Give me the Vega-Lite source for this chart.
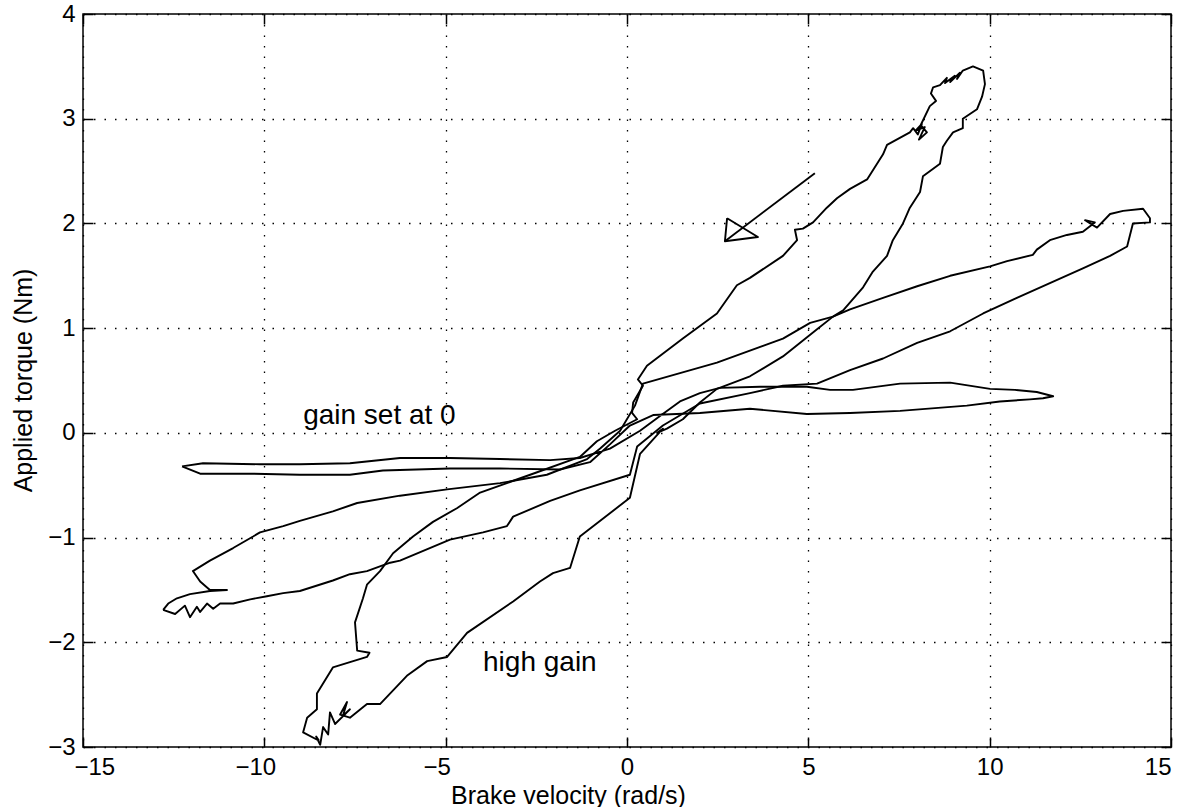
{
"$schema": "https://vega.github.io/schema/vega-lite/v6.json",
"width": 1088, "height": 733,
"autosize": {"type": "none"},
"padding": {"left": 83, "top": 14, "right": 22, "bottom": 60},
"background": "white",
"config": {
 "view": {"stroke": "black", "strokeWidth": 1.5},
 "font": "Liberation Sans",
 "axis": {"domain": false, "labelFont": "Liberation Sans", "labelFontSize": 24, "labelColor": "black", "titleFont": "Liberation Sans", "titleFontSize": 25, "titleFontWeight": "normal", "titleColor": "black", "tickColor": "black", "tickWidth": 1.5, "tickSize": -10, "labelPadding": 18, "grid": false}
},
"datasets": {
"curves": [
{"s":"high","i":0,"x":-8.49,"y":-2.94},{"s":"high","i":1,"x":-8.93,"y":-2.86},{"s":"high","i":2,"x":-8.82,"y":-2.72},{"s":"high","i":3,"x":-8.55,"y":-2.64},{"s":"high","i":4,"x":-8.55,"y":-2.49},{"s":"high","i":5,"x":-8.11,"y":-2.24},{"s":"high","i":6,"x":-7.64,"y":-2.19},{"s":"high","i":7,"x":-7.17,"y":-2.14},{"s":"high","i":8,"x":-7.10,"y":-2.10},{"s":"high","i":9,"x":-7.44,"y":-2.08},{"s":"high","i":10,"x":-7.50,"y":-1.81},{"s":"high","i":11,"x":-7.28,"y":-1.58},{"s":"high","i":12,"x":-7.17,"y":-1.45},{"s":"high","i":13,"x":-6.81,"y":-1.32},{"s":"high","i":14,"x":-6.45,"y":-1.15},{"s":"high","i":15,"x":-5.90,"y":-0.99},{"s":"high","i":16,"x":-5.35,"y":-0.85},{"s":"high","i":17,"x":-4.69,"y":-0.72},{"s":"high","i":18,"x":-4.05,"y":-0.57},{"s":"high","i":19,"x":-2.67,"y":-0.40},{"s":"high","i":20,"x":-1.30,"y":-0.23},{"s":"high","i":21,"x":-0.83,"y":-0.08},{"s":"high","i":22,"x":-0.33,"y":0.02},{"s":"high","i":23,"x":0.28,"y":0.13},{"s":"high","i":24,"x":0.14,"y":0.19},{"s":"high","i":25,"x":0.17,"y":0.29},{"s":"high","i":26,"x":0.44,"y":0.45},{"s":"high","i":27,"x":0.30,"y":0.51},{"s":"high","i":28,"x":0.55,"y":0.64},{"s":"high","i":29,"x":1.54,"y":0.90},{"s":"high","i":30,"x":2.48,"y":1.14},{"s":"high","i":31,"x":3.03,"y":1.41},{"s":"high","i":32,"x":3.39,"y":1.48},{"s":"high","i":33,"x":4.30,"y":1.69},{"s":"high","i":34,"x":4.69,"y":1.84},{"s":"high","i":35,"x":4.63,"y":1.94},{"s":"high","i":36,"x":4.85,"y":1.95},{"s":"high","i":37,"x":5.13,"y":2.01},{"s":"high","i":38,"x":5.51,"y":2.15},{"s":"high","i":39,"x":5.79,"y":2.24},{"s":"high","i":40,"x":6.15,"y":2.33},{"s":"high","i":41,"x":6.62,"y":2.42},{"s":"high","i":42,"x":7.06,"y":2.66},{"s":"high","i":43,"x":7.17,"y":2.75},{"s":"high","i":44,"x":7.80,"y":2.87},{"s":"high","i":45,"x":7.89,"y":2.91},{"s":"high","i":46,"x":8.02,"y":2.85},{"s":"high","i":47,"x":8.13,"y":2.95},{"s":"high","i":48,"x":7.97,"y":2.89},{"s":"high","i":49,"x":8.21,"y":2.92},{"s":"high","i":50,"x":8.05,"y":2.80},{"s":"high","i":51,"x":8.27,"y":2.87},{"s":"high","i":52,"x":8.10,"y":2.94},{"s":"high","i":53,"x":8.35,"y":3.12},{"s":"high","i":54,"x":8.52,"y":3.17},{"s":"high","i":55,"x":8.38,"y":3.24},{"s":"high","i":56,"x":8.44,"y":3.30},{"s":"high","i":57,"x":8.63,"y":3.32},{"s":"high","i":58,"x":8.82,"y":3.39},{"s":"high","i":59,"x":8.77,"y":3.34},{"s":"high","i":60,"x":9.04,"y":3.41},{"s":"high","i":61,"x":8.91,"y":3.35},{"s":"high","i":62,"x":9.18,"y":3.44},{"s":"high","i":63,"x":9.10,"y":3.38},{"s":"high","i":64,"x":9.26,"y":3.46},{"s":"high","i":65,"x":9.54,"y":3.50},{"s":"high","i":66,"x":9.82,"y":3.46},{"s":"high","i":67,"x":9.87,"y":3.33},{"s":"high","i":68,"x":9.79,"y":3.21},{"s":"high","i":69,"x":9.65,"y":3.09},{"s":"high","i":70,"x":9.26,"y":3.00},{"s":"high","i":71,"x":9.26,"y":2.91},{"s":"high","i":72,"x":8.99,"y":2.87},{"s":"high","i":73,"x":8.82,"y":2.79},{"s":"high","i":74,"x":8.71,"y":2.73},{"s":"high","i":75,"x":8.63,"y":2.57},{"s":"high","i":76,"x":8.16,"y":2.45},{"s":"high","i":77,"x":8.08,"y":2.30},{"s":"high","i":78,"x":7.80,"y":2.15},{"s":"high","i":79,"x":7.61,"y":2.00},{"s":"high","i":80,"x":7.33,"y":1.84},{"s":"high","i":81,"x":7.17,"y":1.69},{"s":"high","i":82,"x":6.78,"y":1.54},{"s":"high","i":83,"x":6.51,"y":1.39},{"s":"high","i":84,"x":5.96,"y":1.17},{"s":"high","i":85,"x":5.68,"y":1.11},{"s":"high","i":86,"x":5.24,"y":0.99},{"s":"high","i":87,"x":4.30,"y":0.73},{"s":"high","i":88,"x":3.39,"y":0.54},{"s":"high","i":89,"x":2.48,"y":0.42},{"s":"high","i":90,"x":2.01,"y":0.29},{"s":"high","i":91,"x":1.54,"y":0.13},{"s":"high","i":92,"x":1.10,"y":0.04},{"s":"high","i":93,"x":0.83,"y":0.00},{"s":"high","i":94,"x":0.99,"y":0.04},{"s":"high","i":95,"x":0.36,"y":-0.20},{"s":"high","i":96,"x":0.08,"y":-0.62},{"s":"high","i":97,"x":-1.30,"y":-0.99},{"s":"high","i":98,"x":-1.57,"y":-1.29},{"s":"high","i":99,"x":-2.04,"y":-1.34},{"s":"high","i":100,"x":-2.40,"y":-1.42},{"s":"high","i":101,"x":-3.14,"y":-1.61},{"s":"high","i":102,"x":-4.41,"y":-1.91},{"s":"high","i":103,"x":-4.96,"y":-2.14},{"s":"high","i":104,"x":-5.51,"y":-2.18},{"s":"high","i":105,"x":-6.07,"y":-2.32},{"s":"high","i":106,"x":-6.81,"y":-2.59},{"s":"high","i":107,"x":-7.17,"y":-2.59},{"s":"high","i":108,"x":-7.64,"y":-2.72},{"s":"high","i":109,"x":-7.91,"y":-2.69},{"s":"high","i":110,"x":-7.72,"y":-2.57},{"s":"high","i":111,"x":-7.83,"y":-2.70},{"s":"high","i":112,"x":-7.64,"y":-2.64},{"s":"high","i":113,"x":-8.05,"y":-2.78},{"s":"high","i":114,"x":-8.19,"y":-2.67},{"s":"high","i":115,"x":-8.24,"y":-2.88},{"s":"high","i":116,"x":-8.38,"y":-2.81},{"s":"high","i":117,"x":-8.46,"y":-2.98},{"s":"high","i":118,"x":-8.57,"y":-2.90},{"s":"high","i":119,"x":-8.49,"y":-2.94},
{"s":"mid","i":0,"x":-12.79,"y":-1.69},{"s":"mid","i":1,"x":-12.46,"y":-1.73},{"s":"mid","i":2,"x":-12.19,"y":-1.65},{"s":"mid","i":3,"x":-12.05,"y":-1.76},{"s":"mid","i":4,"x":-11.86,"y":-1.66},{"s":"mid","i":5,"x":-11.77,"y":-1.71},{"s":"mid","i":6,"x":-11.58,"y":-1.63},{"s":"mid","i":7,"x":-11.41,"y":-1.68},{"s":"mid","i":8,"x":-11.22,"y":-1.63},{"s":"mid","i":9,"x":-10.86,"y":-1.63},{"s":"mid","i":10,"x":-10.39,"y":-1.59},{"s":"mid","i":11,"x":-9.93,"y":-1.56},{"s":"mid","i":12,"x":-9.48,"y":-1.53},{"s":"mid","i":13,"x":-9.02,"y":-1.51},{"s":"mid","i":14,"x":-8.11,"y":-1.41},{"s":"mid","i":15,"x":-7.64,"y":-1.35},{"s":"mid","i":16,"x":-7.17,"y":-1.32},{"s":"mid","i":17,"x":-6.53,"y":-1.24},{"s":"mid","i":18,"x":-6.26,"y":-1.22},{"s":"mid","i":19,"x":-4.88,"y":-1.02},{"s":"mid","i":20,"x":-3.97,"y":-0.95},{"s":"mid","i":21,"x":-3.31,"y":-0.89},{"s":"mid","i":22,"x":-3.14,"y":-0.80},{"s":"mid","i":23,"x":-2.12,"y":-0.65},{"s":"mid","i":24,"x":-1.30,"y":-0.55},{"s":"mid","i":25,"x":0.08,"y":-0.40},{"s":"mid","i":26,"x":0.28,"y":-0.13},{"s":"mid","i":27,"x":0.99,"y":0.07},{"s":"mid","i":28,"x":2.01,"y":0.28},{"s":"mid","i":29,"x":3.39,"y":0.38},{"s":"mid","i":30,"x":4.30,"y":0.45},{"s":"mid","i":31,"x":5.24,"y":0.47},{"s":"mid","i":32,"x":6.15,"y":0.60},{"s":"mid","i":33,"x":7.06,"y":0.71},{"s":"mid","i":34,"x":8.00,"y":0.86},{"s":"mid","i":35,"x":8.91,"y":0.97},{"s":"mid","i":36,"x":9.82,"y":1.14},{"s":"mid","i":37,"x":10.75,"y":1.29},{"s":"mid","i":38,"x":11.66,"y":1.43},{"s":"mid","i":39,"x":12.57,"y":1.57},{"s":"mid","i":40,"x":13.32,"y":1.69},{"s":"mid","i":41,"x":13.79,"y":1.78},{"s":"mid","i":42,"x":13.95,"y":2.00},{"s":"mid","i":43,"x":14.42,"y":2.01},{"s":"mid","i":44,"x":14.42,"y":2.05},{"s":"mid","i":45,"x":14.23,"y":2.14},{"s":"mid","i":46,"x":13.68,"y":2.12},{"s":"mid","i":47,"x":13.32,"y":2.09},{"s":"mid","i":48,"x":12.96,"y":1.96},{"s":"mid","i":49,"x":12.63,"y":2.03},{"s":"mid","i":50,"x":12.90,"y":2.01},{"s":"mid","i":51,"x":12.57,"y":1.92},{"s":"mid","i":52,"x":12.13,"y":1.89},{"s":"mid","i":53,"x":11.66,"y":1.84},{"s":"mid","i":54,"x":11.30,"y":1.75},{"s":"mid","i":55,"x":11.19,"y":1.70},{"s":"mid","i":56,"x":10.48,"y":1.64},{"s":"mid","i":57,"x":10.01,"y":1.59},{"s":"mid","i":58,"x":8.91,"y":1.50},{"s":"mid","i":59,"x":8.00,"y":1.40},{"s":"mid","i":60,"x":7.06,"y":1.29},{"s":"mid","i":61,"x":6.15,"y":1.18},{"s":"mid","i":62,"x":5.68,"y":1.11},{"s":"mid","i":63,"x":5.05,"y":1.05},{"s":"mid","i":64,"x":4.30,"y":0.90},{"s":"mid","i":65,"x":2.48,"y":0.67},{"s":"mid","i":66,"x":0.44,"y":0.47},{"s":"mid","i":67,"x":0.22,"y":0.26},{"s":"mid","i":68,"x":-0.19,"y":0.02},{"s":"mid","i":69,"x":-0.74,"y":-0.15},{"s":"mid","i":70,"x":-1.10,"y":-0.25},{"s":"mid","i":71,"x":-2.21,"y":-0.40},{"s":"mid","i":72,"x":-3.50,"y":-0.48},{"s":"mid","i":73,"x":-4.96,"y":-0.54},{"s":"mid","i":74,"x":-6.26,"y":-0.60},{"s":"mid","i":75,"x":-7.44,"y":-0.67},{"s":"mid","i":76,"x":-8.11,"y":-0.75},{"s":"mid","i":77,"x":-9.02,"y":-0.84},{"s":"mid","i":78,"x":-9.48,"y":-0.89},{"s":"mid","i":79,"x":-10.12,"y":-0.95},{"s":"mid","i":80,"x":-10.31,"y":-0.99},{"s":"mid","i":81,"x":-10.86,"y":-1.10},{"s":"mid","i":82,"x":-11.50,"y":-1.22},{"s":"mid","i":83,"x":-11.97,"y":-1.32},{"s":"mid","i":84,"x":-11.77,"y":-1.42},{"s":"mid","i":85,"x":-11.50,"y":-1.50},{"s":"mid","i":86,"x":-11.03,"y":-1.50},{"s":"mid","i":87,"x":-11.50,"y":-1.51},{"s":"mid","i":88,"x":-12.05,"y":-1.54},{"s":"mid","i":89,"x":-12.41,"y":-1.58},{"s":"mid","i":90,"x":-12.65,"y":-1.63},{"s":"mid","i":91,"x":-12.79,"y":-1.69},
{"s":"zero","i":0,"x":-12.27,"y":-0.32},{"s":"zero","i":1,"x":-11.69,"y":-0.29},{"s":"zero","i":2,"x":-10.12,"y":-0.30},{"s":"zero","i":3,"x":-9.02,"y":-0.30},{"s":"zero","i":4,"x":-7.64,"y":-0.29},{"s":"zero","i":5,"x":-6.26,"y":-0.24},{"s":"zero","i":6,"x":-4.88,"y":-0.24},{"s":"zero","i":7,"x":-3.50,"y":-0.25},{"s":"zero","i":8,"x":-2.12,"y":-0.26},{"s":"zero","i":9,"x":-1.30,"y":-0.24},{"s":"zero","i":10,"x":-0.47,"y":-0.15},{"s":"zero","i":11,"x":0.36,"y":0.02},{"s":"zero","i":12,"x":0.91,"y":0.16},{"s":"zero","i":13,"x":1.46,"y":0.30},{"s":"zero","i":14,"x":2.01,"y":0.38},{"s":"zero","i":15,"x":2.56,"y":0.43},{"s":"zero","i":16,"x":3.67,"y":0.44},{"s":"zero","i":17,"x":4.96,"y":0.44},{"s":"zero","i":18,"x":5.60,"y":0.41},{"s":"zero","i":19,"x":6.23,"y":0.41},{"s":"zero","i":20,"x":7.53,"y":0.47},{"s":"zero","i":21,"x":8.91,"y":0.48},{"s":"zero","i":22,"x":10.01,"y":0.42},{"s":"zero","i":23,"x":10.70,"y":0.41},{"s":"zero","i":24,"x":11.30,"y":0.39},{"s":"zero","i":25,"x":11.75,"y":0.35},{"s":"zero","i":26,"x":11.47,"y":0.33},{"s":"zero","i":27,"x":11.11,"y":0.32},{"s":"zero","i":28,"x":10.28,"y":0.30},{"s":"zero","i":29,"x":9.37,"y":0.26},{"s":"zero","i":30,"x":7.53,"y":0.21},{"s":"zero","i":31,"x":6.15,"y":0.19},{"s":"zero","i":32,"x":4.96,"y":0.18},{"s":"zero","i":33,"x":3.39,"y":0.23},{"s":"zero","i":34,"x":2.01,"y":0.19},{"s":"zero","i":35,"x":0.72,"y":0.17},{"s":"zero","i":36,"x":0.08,"y":0.07},{"s":"zero","i":37,"x":-0.47,"y":-0.11},{"s":"zero","i":38,"x":-1.02,"y":-0.28},{"s":"zero","i":39,"x":-1.85,"y":-0.35},{"s":"zero","i":40,"x":-3.50,"y":-0.34},{"s":"zero","i":41,"x":-4.88,"y":-0.34},{"s":"zero","i":42,"x":-6.73,"y":-0.36},{"s":"zero","i":43,"x":-7.64,"y":-0.40},{"s":"zero","i":44,"x":-9.02,"y":-0.40},{"s":"zero","i":45,"x":-10.39,"y":-0.39},{"s":"zero","i":46,"x":-11.77,"y":-0.39},{"s":"zero","i":47,"x":-12.27,"y":-0.32},
{"s":"shaft","i":0,"x":5.18,"y":2.48},{"s":"shaft","i":1,"x":2.70,"y":1.83},
{"s":"head","i":0,"x":2.76,"y":2.05},{"s":"head","i":1,"x":2.70,"y":1.83},{"s":"head","i":2,"x":3.61,"y":1.87},{"s":"head","i":3,"x":2.76,"y":2.05}
],
"labels": [
{"label":"gain set at 0","x":-8.93,"y":0.08},
{"label":"high gain","x":-3.97,"y":-2.27}
]
},
"layer": [
 {
  "data": {"name": "curves"},
  "mark": {"type": "line", "color": "black", "strokeWidth": 1.9, "strokeJoin": "round"},
  "encoding": {
   "x": {"field": "x", "type": "quantitative", "scale": {"domain": [-15, 15], "nice": false, "zero": false},
     "axis": {"orient": "bottom", "values": [-15,-10,-5,0,5,10,15], "title": "Brake velocity (rad/s)", "titleX": 485, "titleY": 56, "titleBaseline": "alphabetic", "grid": true, "gridDash": [1.5, 9], "gridColor": "black", "gridWidth": 1.3, "labelOffset": {"condition": {"test": "datum.value < 0", "value": -9}, "value": 0}}},
   "y": {"field": "y", "type": "quantitative", "scale": {"domain": [-3, 4], "nice": false, "zero": false},
     "axis": {"orient": "left", "values": [-3,-2,-1,0,1,2,3,4], "title": "Applied torque (Nm)", "titleX": -52, "titleY": 366, "titleBaseline": "alphabetic", "grid": true, "gridDash": [1.5, 9], "gridColor": "black", "gridWidth": 1.3}},
   "detail": {"field": "s"},
   "order": {"field": "i"}
  }
 },
 {
  "data": {"name": "labels"},
  "mark": {"type": "text", "align": "left", "baseline": "alphabetic", "fontSize": 28, "font": "Liberation Sans", "color": "black"},
  "encoding": {
   "x": {"field": "x", "type": "quantitative", "axis": {"orient": "top", "values": [-15,-10,-5,0,5,10,15], "labels": false, "title": null, "grid": false}},
   "y": {"field": "y", "type": "quantitative", "axis": {"orient": "right", "values": [-3,-2,-1,0,1,2,3,4], "labels": false, "title": null, "grid": false}},
   "text": {"field": "label"}
  }
 }
],
"resolve": {"axis": {"x": "independent", "y": "independent"}}
}
